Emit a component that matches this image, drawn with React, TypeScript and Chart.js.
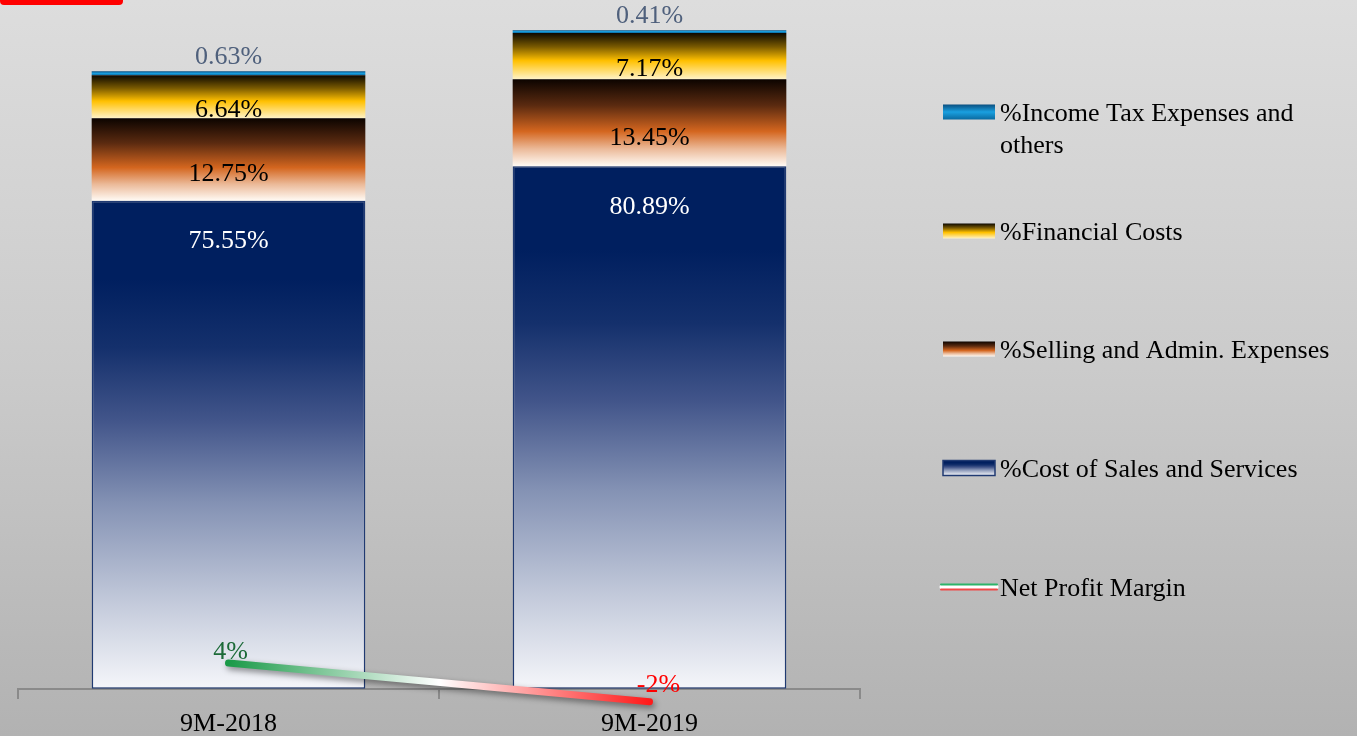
import React, { useEffect, useRef } from "react";
import { Chart, registerables } from "chart.js";

Chart.register(...registerables);

// ---- data ----
const categories = ["9M-2018", "9M-2019"];
const costOfSales = [75.55, 80.89];
const sellingAdmin = [12.75, 13.45];
const financialCosts = [6.64, 7.17];
const incomeTax = [0.63, 0.41];
const netProfitMargin = [4, -2];
const netProfitLabels = ["4%", "-2%"];
const seriesNames = [
  "%Cost of Sales and Services",
  "%Selling and Admin. Expenses",
  "%Financial Costs",
  "%Income Tax Expenses and others",
  "Net Profit Margin",
];

const barSeries = [costOfSales, sellingAdmin, financialCosts, incomeTax];

const FONT = "'Liberation Serif', 'Times New Roman', serif";
const FS = 26;

type Stop = [number, string];
const costStops: Stop[] = [
  [0, "#001f5f"],
  [0.16, "#001f5f"],
  [0.3, "#14306c"],
  [0.45, "#42558a"],
  [0.62, "#8492b4"],
  [0.82, "#c2c9da"],
  [1, "#f5f6fa"],
];
const sellingStops: Stop[] = [
  [0, "#0c0400"],
  [0.3, "#5a2a10"],
  [0.6, "#d4661f"],
  [0.8, "#ebb998"],
  [1, "#fffaf4"],
];
const financialStops: Stop[] = [
  [0, "#0c0800"],
  [0.3, "#7a5a00"],
  [0.6, "#ffc000"],
  [1, "#fff3c8"],
];
const taxStops: Stop[] = [
  [0, "#0a4f80"],
  [0.5, "#1aa0e0"],
  [1, "#0a6aa0"],
];
const stopsBySeries = [costStops, sellingStops, financialStops, taxStops];

function makeGrad(ctx: CanvasRenderingContext2D, x0: number, y0: number, x1: number, y1: number, stops: Stop[]) {
  const g = ctx.createLinearGradient(x0, y0, x1, y1);
  stops.forEach(([o, c]) => g.addColorStop(o, c));
  return g;
}

function barGradient(seriesIndex: number) {
  return (c: any) => {
    const stops = stopsBySeries[seriesIndex];
    const chart = c.chart;
    const y = chart.scales && chart.scales.y;
    if (!y || c.type !== "data") return stops[Math.floor(stops.length / 2)][1];
    const i = c.dataIndex;
    let base = 0;
    for (let d = 0; d < seriesIndex; d++) base += barSeries[d][i];
    const top = base + barSeries[seriesIndex][i];
    const y0 = y.getPixelForValue(top);
    const y1 = y.getPixelForValue(base);
    if (!isFinite(y0) || !isFinite(y1) || y0 === y1) return stops[0][1];
    return makeGrad(chart.ctx, 0, y0, 0, y1, stops);
  };
}

const lineGradient = (c: any) => {
  const chart = c.chart;
  const x = chart.scales && chart.scales.x;
  if (!x) return "#20a050";
  const x0 = x.getPixelForValue(0);
  const x1 = x.getPixelForValue(1);
  if (!isFinite(x0) || !isFinite(x1) || x0 === x1) return "#20a050";
  return makeGrad(chart.ctx, x0, 0, x1, 0, [
    [0, "#1a9a48"],
    [0.5, "#ffffff"],
    [1, "#ff1a1a"],
  ]);
};

const backgroundPlugin = {
  id: "bgPlugin",
  beforeDraw(chart: any) {
    const { ctx, width, height } = chart;
    ctx.save();
    const g = ctx.createLinearGradient(0, 0, 0, height);
    g.addColorStop(0, "#dddddd");
    g.addColorStop(0.5, "#cbcbcb");
    g.addColorStop(1, "#b2b2b2");
    ctx.fillStyle = g;
    ctx.fillRect(0, 0, width, height);
    // red accent at top-left
    ctx.fillStyle = "#ff0000";
    ctx.beginPath();
    (ctx as any).roundRect(0, -6, 123, 11, 4);
    ctx.fill();
    ctx.restore();
  },
};

const shadowPlugin = {
  id: "lineShadow",
  beforeDatasetDraw(chart: any, args: any) {
    if (args.index !== 4) return;
    const ctx = chart.ctx;
    ctx.save();
    ctx.shadowColor = "rgba(0,0,0,0.45)";
    ctx.shadowBlur = 6;
    ctx.shadowOffsetX = 2;
    ctx.shadowOffsetY = 3;
  },
  afterDatasetDraw(chart: any, args: any) {
    if (args.index !== 4) return;
    chart.ctx.restore();
  },
};

const labelPlugin = {
  id: "valueLabels",
  afterDatasetsDraw(chart: any) {
    const ctx = chart.ctx;
    ctx.save();
    ctx.font = `${FS}px ${FONT}`;
    ctx.textAlign = "center";
    ctx.textBaseline = "middle";
    for (let i = 0; i < categories.length; i++) {
      const cost = chart.getDatasetMeta(0).data[i];
      const sell = chart.getDatasetMeta(1).data[i];
      const fin = chart.getDatasetMeta(2).data[i];
      const tax = chart.getDatasetMeta(3).data[i];
      ctx.fillStyle = "#ffffff";
      ctx.fillText(costOfSales[i].toFixed(2) + "%", cost.x, cost.y + 41);
      ctx.fillStyle = "#000000";
      ctx.fillText(sellingAdmin[i].toFixed(2) + "%", sell.x, (sell.y + sell.base) / 2 + 15);
      ctx.fillText(financialCosts[i].toFixed(2) + "%", fin.x, (fin.y + fin.base) / 2 + 13);
      ctx.fillStyle = "#4f607c";
      ctx.fillText(incomeTax[i].toFixed(2) + "%", tax.x, tax.y - 14);
    }
    const line = chart.getDatasetMeta(4).data;
    ctx.fillStyle = "#1c6a38";
    ctx.fillText(netProfitLabels[0], line[0].x + 2, line[0].y - 11);
    ctx.fillStyle = "#ff0000";
    ctx.fillText(netProfitLabels[1], line[1].x + 9, line[1].y - 17);
    ctx.restore();
  },
};

const legendPlugin = {
  id: "customLegend",
  afterDraw(chart: any) {
    const ctx = chart.ctx as CanvasRenderingContext2D;
    ctx.save();
    ctx.font = `${FS}px ${FONT}`;
    ctx.textAlign = "left";
    ctx.textBaseline = "middle";
    ctx.fillStyle = "#000";
    const tx = 1000;
    const bx = 943;
    const bw = 52;
    const bh = 15;
    const rows: { y: number; s: number }[] = [
      { y: 112, s: 3 },
      { y: 231, s: 2 },
      { y: 349, s: 1 },
      { y: 468, s: 0 },
    ];
    rows.forEach(({ y, s }) => {
      const top = y - bh / 2;
      ctx.fillStyle = makeGrad(ctx, 0, top, 0, top + bh, stopsBySeries[s]);
      ctx.fillRect(bx, top, bw, bh);
      if (s === 0) {
        ctx.strokeStyle = "#203a72";
        ctx.lineWidth = 1.5;
        ctx.strokeRect(bx, top, bw, bh);
      }
    });
    const ty = 2;
    ctx.fillStyle = "#000";
    ctx.fillText("%Income Tax Expenses and", tx, 112 + ty);
    ctx.fillText("others", tx, 144 + ty);
    ctx.fillText(seriesNames[2], tx, 231 + ty);
    ctx.fillText(seriesNames[1], tx, 349 + ty);
    ctx.fillText(seriesNames[0], tx, 468 + ty);
    // line legend
    ctx.lineCap = "round";
    ctx.lineWidth = 5;
    ctx.strokeStyle = "#ffffff";
    ctx.beginPath();
    ctx.moveTo(942, 587);
    ctx.lineTo(996, 587);
    ctx.stroke();
    ctx.lineWidth = 2;
    ctx.strokeStyle = "#2db36a";
    ctx.beginPath();
    ctx.moveTo(941, 584.5);
    ctx.lineTo(997, 584.5);
    ctx.stroke();
    ctx.strokeStyle = "#f04848";
    ctx.beginPath();
    ctx.moveTo(941, 589.5);
    ctx.lineTo(997, 589.5);
    ctx.stroke();
    ctx.fillStyle = "#000";
    ctx.fillText(seriesNames[4], tx, 587 + ty);
    ctx.restore();
  },
};

export default function App() {
  const canvasRef = useRef<HTMLCanvasElement | null>(null);

  useEffect(() => {
    if (!canvasRef.current) return;
    const chart = new Chart(canvasRef.current, {
      type: "bar",
      data: {
        labels: categories,
        datasets: [
          {
            type: "bar",
            label: seriesNames[0],
            data: costOfSales,
            backgroundColor: barGradient(0),
            borderColor: "#203a72",
            borderWidth: 1.5,
            borderSkipped: false,
            stack: "bars",
            order: 2,
          },
          {
            type: "bar",
            label: seriesNames[1],
            data: sellingAdmin,
            backgroundColor: barGradient(1),
            borderWidth: 0,
            stack: "bars",
            order: 2,
          },
          {
            type: "bar",
            label: seriesNames[2],
            data: financialCosts,
            backgroundColor: barGradient(2),
            borderWidth: 0,
            stack: "bars",
            order: 2,
          },
          {
            type: "bar",
            label: seriesNames[3],
            data: incomeTax,
            backgroundColor: barGradient(3),
            borderWidth: 0,
            stack: "bars",
            order: 2,
          },
          {
            type: "line",
            label: seriesNames[4],
            data: netProfitMargin,
            borderColor: lineGradient,
            borderWidth: 7,
            borderCapStyle: "round",
            pointRadius: 0,
            pointHoverRadius: 0,
            tension: 0,
            fill: false,
            stack: "line",
            order: 1,
          } as any,
        ],
      },
      options: {
        animation: false,
        responsive: true,
        maintainAspectRatio: false,
        events: [],
        layout: { padding: { left: 18, right: 497, top: 0, bottom: 0 } },
        plugins: {
          legend: { display: false },
          tooltip: { enabled: false },
          title: { display: false },
        },
        datasets: {
          bar: { categoryPercentage: 1, barPercentage: 0.65 },
        },
        scales: {
          x: {
            stacked: true,
            position: { y: 0 } as any,
            grid: {
              display: true,
              drawOnChartArea: false,
              drawTicks: true,
              tickLength: 9,
              color: "#8a8a8a",
              lineWidth: 2,
              offset: true,
            },
            border: { display: true, color: "#8a8a8a", width: 2 },
            ticks: {
              color: "#000000",
              font: { family: FONT, size: FS },
              padding: 11,
              maxRotation: 0,
            },
          },
          y: {
            stacked: true,
            display: false,
            min: -7.3,
            max: 106.6,
          },
        },
      },
      plugins: [backgroundPlugin, shadowPlugin, labelPlugin, legendPlugin],
    });
    return () => chart.destroy();
  }, []);

  return (
    <div style={{ position: "absolute", left: 0, top: 0, width: 1357, height: 736 }}>
      <canvas ref={canvasRef} />
    </div>
  );
}
